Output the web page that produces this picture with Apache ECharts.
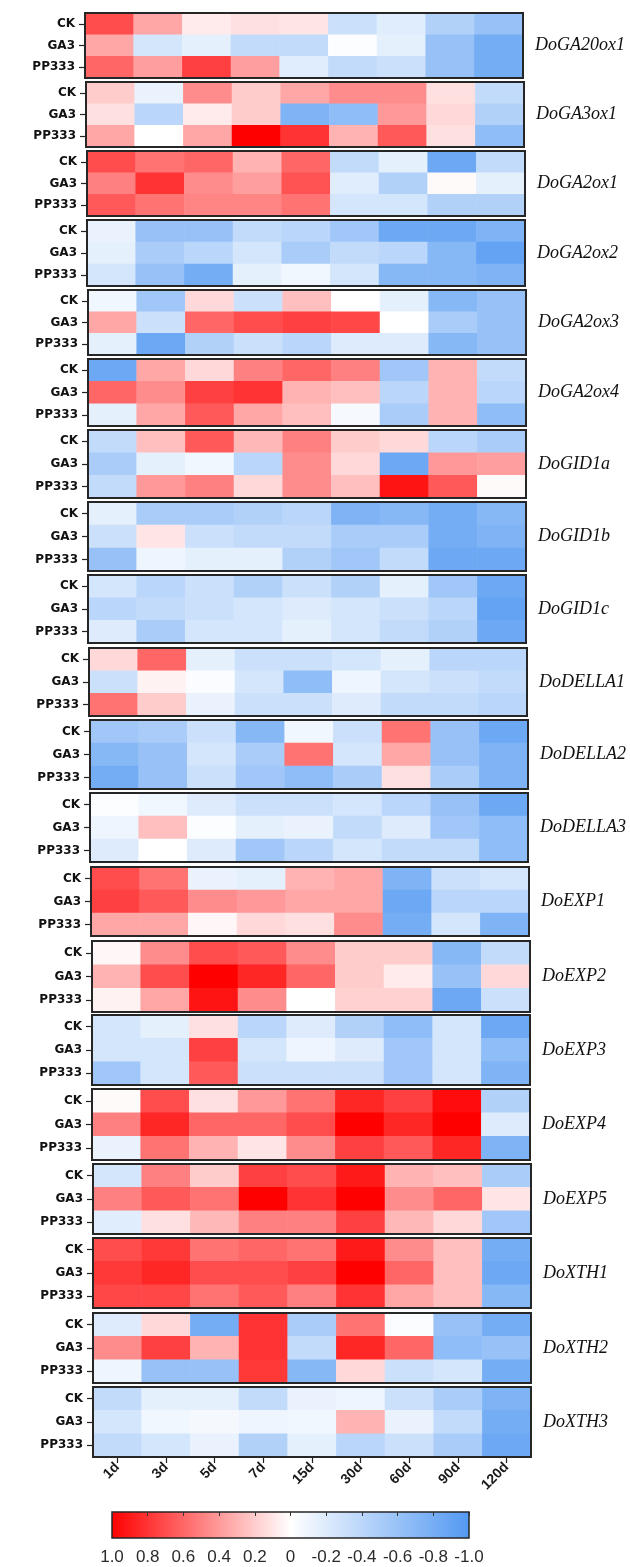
<!DOCTYPE html>
<html>
<head>
<meta charset="utf-8">
<script src="https://cdn.jsdelivr.net/npm/echarts@6/dist/echarts.min.js"></script>
<style>
  html, body { margin: 0; padding: 0; background: #ffffff; }
  #chart { width: 630px; height: 1567px; }
</style>
</head>
<body>
<div id="chart"></div>
<script>
// Sampling times (columns) and treatments (rows inside each gene block)
const days = ['1d', '3d', '5d', '7d', '15d', '30d', '60d', '90d', '120d'];
const treatments = ['CK', 'GA3', 'PP333'];
const genes = ['DoGA20ox1', 'DoGA3ox1', 'DoGA2ox1', 'DoGA2ox2', 'DoGA2ox3', 'DoGA2ox4',
  'DoGID1a', 'DoGID1b', 'DoGID1c', 'DoDELLA1', 'DoDELLA2', 'DoDELLA3',
  'DoEXP1', 'DoEXP2', 'DoEXP3', 'DoEXP4', 'DoEXP5', 'DoXTH1', 'DoXTH2', 'DoXTH3'];

// Relative expression per gene: rows CK, GA3, PP333; columns follow `days`
const DoGA20ox1 = [
  [0.70, 0.35, 0.08, 0.12, 0.10, -0.30, -0.18, -0.45, -0.60],
  [0.35, -0.25, -0.15, -0.35, -0.35, -0.02, -0.15, -0.60, -0.80],
  [0.60, 0.38, 0.75, 0.38, -0.18, -0.35, -0.30, -0.60, -0.80]];
const DoGA3ox1 = [
  [0.20, -0.12, 0.45, 0.20, 0.35, 0.45, 0.45, 0.12, -0.35],
  [0.12, -0.40, 0.08, 0.20, -0.75, -0.65, 0.40, 0.15, -0.45],
  [0.35, 0.00, 0.35, 1.00, 0.80, 0.30, 0.65, 0.12, -0.65]];
const DoGA2ox1 = [
  [0.70, 0.55, 0.60, 0.30, 0.60, -0.35, -0.15, -0.85, -0.35],
  [0.50, 0.80, 0.45, 0.38, 0.68, -0.18, -0.45, 0.02, -0.15],
  [0.65, 0.55, 0.48, 0.48, 0.55, -0.25, -0.25, -0.45, -0.45]];
const DoGA2ox2 = [
  [-0.12, -0.60, -0.60, -0.35, -0.40, -0.55, -0.85, -0.85, -0.75],
  [-0.15, -0.50, -0.40, -0.25, -0.50, -0.35, -0.40, -0.70, -0.90],
  [-0.25, -0.60, -0.80, -0.15, -0.08, -0.25, -0.70, -0.70, -0.75]];
const DoGA2ox3 = [
  [-0.08, -0.55, 0.15, -0.30, 0.25, 0.00, -0.15, -0.70, -0.60],
  [0.35, -0.30, 0.60, 0.70, 0.75, 0.72, 0.00, -0.50, -0.60],
  [-0.15, -0.85, -0.45, -0.30, -0.40, -0.20, -0.20, -0.70, -0.60]];
const DoGA2ox4 = [
  [-0.85, 0.35, 0.15, 0.50, 0.60, 0.50, -0.55, 0.30, -0.35],
  [0.60, 0.45, 0.75, 0.80, 0.30, 0.25, -0.40, 0.30, -0.40],
  [-0.15, 0.35, 0.65, 0.35, 0.25, -0.05, -0.50, 0.30, -0.65]];
const DoGID1a = [
  [-0.35, 0.25, 0.65, 0.28, 0.50, 0.20, 0.15, -0.40, -0.50],
  [-0.50, -0.15, -0.08, -0.40, 0.45, 0.15, -0.85, 0.40, 0.38],
  [-0.35, 0.40, 0.50, 0.15, 0.45, 0.25, 0.92, 0.65, 0.02]];
const DoGID1b = [
  [-0.15, -0.50, -0.50, -0.45, -0.40, -0.75, -0.70, -0.80, -0.70],
  [-0.30, 0.10, -0.30, -0.35, -0.35, -0.50, -0.50, -0.80, -0.75],
  [-0.60, -0.10, -0.15, -0.15, -0.45, -0.55, -0.35, -0.85, -0.85]];
const DoGID1c = [
  [-0.25, -0.40, -0.30, -0.45, -0.30, -0.45, -0.15, -0.55, -0.85],
  [-0.40, -0.35, -0.30, -0.25, -0.20, -0.25, -0.30, -0.40, -0.90],
  [-0.20, -0.50, -0.25, -0.25, -0.15, -0.25, -0.35, -0.45, -0.85]];
const DoDELLA1 = [
  [0.15, 0.60, -0.15, -0.30, -0.30, -0.25, -0.15, -0.40, -0.40],
  [-0.30, 0.05, -0.03, -0.25, -0.65, -0.10, -0.25, -0.30, -0.35],
  [0.55, 0.20, -0.12, -0.30, -0.30, -0.20, -0.35, -0.35, -0.40]];
const DoDELLA2 = [
  [-0.55, -0.50, -0.30, -0.70, -0.08, -0.30, 0.55, -0.60, -0.85],
  [-0.70, -0.60, -0.25, -0.50, 0.55, -0.25, 0.35, -0.60, -0.75],
  [-0.80, -0.60, -0.30, -0.55, -0.65, -0.50, 0.12, -0.50, -0.75]];
const DoDELLA3 = [
  [-0.02, -0.08, -0.20, -0.30, -0.30, -0.25, -0.40, -0.60, -0.85],
  [-0.10, 0.25, -0.02, -0.15, -0.12, -0.35, -0.20, -0.55, -0.65],
  [-0.20, 0.00, -0.20, -0.55, -0.40, -0.25, -0.35, -0.35, -0.65]];
const DoEXP1 = [
  [0.70, 0.55, -0.12, -0.15, 0.30, 0.35, -0.75, -0.30, -0.25],
  [0.75, 0.65, 0.45, 0.40, 0.35, 0.35, -0.85, -0.40, -0.40],
  [0.35, 0.35, 0.03, 0.15, 0.12, 0.45, -0.80, -0.25, -0.75]];
const DoEXP2 = [
  [0.03, 0.45, 0.70, 0.65, 0.45, 0.20, 0.20, -0.70, -0.35],
  [0.30, 0.70, 1.00, 0.85, 0.60, 0.20, 0.08, -0.60, 0.15],
  [0.05, 0.35, 0.92, 0.45, 0.00, 0.18, 0.18, -0.85, -0.30]];
const DoEXP3 = [
  [-0.25, -0.15, 0.12, -0.40, -0.20, -0.45, -0.65, -0.25, -0.85],
  [-0.25, -0.25, 0.75, -0.25, -0.10, -0.20, -0.55, -0.25, -0.65],
  [-0.55, -0.25, 0.65, -0.30, -0.30, -0.30, -0.55, -0.25, -0.75]];
const DoEXP4 = [
  [0.02, 0.70, 0.12, 0.40, 0.55, 0.85, 0.75, 0.95, -0.45],
  [0.50, 0.85, 0.60, 0.60, 0.70, 1.00, 0.85, 1.00, -0.20],
  [-0.12, 0.55, 0.30, 0.10, 0.45, 0.75, 0.65, 0.85, -0.75]];
const DoEXP5 = [
  [-0.25, 0.50, 0.20, 0.75, 0.70, 0.90, 0.30, 0.25, -0.50],
  [0.50, 0.65, 0.55, 1.00, 0.80, 1.00, 0.45, 0.60, 0.10],
  [-0.18, 0.12, 0.28, 0.50, 0.50, 0.75, 0.28, 0.15, -0.55]];
const DoXTH1 = [
  [0.70, 0.78, 0.55, 0.60, 0.55, 0.90, 0.45, 0.25, -0.80],
  [0.78, 0.85, 0.70, 0.70, 0.75, 1.00, 0.60, 0.25, -0.85],
  [0.72, 0.72, 0.55, 0.65, 0.50, 0.80, 0.35, 0.25, -0.70]];
const DoXTH2 = [
  [-0.20, 0.15, -0.80, 0.80, -0.50, 0.55, -0.03, -0.60, -0.80],
  [0.45, 0.75, 0.30, 0.80, -0.35, 0.85, 0.60, -0.65, -0.60],
  [-0.10, -0.60, -0.60, 0.78, -0.70, 0.15, -0.30, -0.25, -0.80]];
const DoXTH3 = [
  [-0.35, -0.15, -0.15, -0.35, -0.12, -0.10, -0.30, -0.50, -0.75],
  [-0.25, -0.08, -0.06, -0.10, -0.08, 0.30, -0.12, -0.35, -0.80],
  [-0.35, -0.25, -0.12, -0.45, -0.15, -0.40, -0.30, -0.50, -0.85]];

const geneValues = [DoGA20ox1, DoGA3ox1, DoGA2ox1, DoGA2ox2, DoGA2ox3, DoGA2ox4,
  DoGID1a, DoGID1b, DoGID1c, DoDELLA1, DoDELLA2, DoDELLA3,
  DoEXP1, DoEXP2, DoEXP3, DoEXP4, DoEXP5, DoXTH1, DoXTH2, DoXTH3];

// Colour scale tick labels (left to right)
const scaleLabels = ['1.0', '0.8', '0.6', '0.4', '0.2', '0', '-0.2', '-0.4', '-0.6', '-0.8', '-1.0'];

// ---- layout: each gene is drawn as its own framed panel ----
const blockTop    = [12, 81, 150, 219, 289, 358, 429, 501, 574, 647, 719, 792, 866, 940, 1014, 1088, 1163, 1237, 1312, 1386];
const blockBottom = [79, 148, 217, 287, 356, 427, 499, 572, 644, 717, 790, 863, 937, 1013, 1086, 1161, 1235, 1309, 1384, 1458];
const blockLeft   = [84, 85, 86, 86, 87, 87, 87, 87, 87, 88, 89, 89, 90, 91, 91, 91, 92, 92, 92, 92];
const blockWidth = 440;
const colorBar = { left: 112, top: 1512, width: 357, height: 26 };

// low (-1) -> mid (0) -> high (+1)
const palette = ['#5399F2', '#FFFFFF', '#FF0000'];

const frameColor = '#262626';
const grids = [], xAxes = [], yAxes = [], series = [], graphics = [];

genes.forEach((gene, i) => {
  const last = i === genes.length - 1;
  const h = blockBottom[i] - blockTop[i];
  grids.push({
    left: blockLeft[i] + 1, top: blockTop[i] + 1,
    width: blockWidth - 2, height: h - 2,
    show: true, z: 5,
    backgroundColor: 'transparent',
    borderColor: frameColor, borderWidth: 2
  });
  xAxes.push({
    type: 'category', gridIndex: i, data: days,
    axisLine: { show: false },
    splitLine: { show: false },
    axisTick: { show: last, alignWithLabel: true, length: 6, lineStyle: { color: '#222', width: 1.2 } },
    axisLabel: {
      show: last, rotate: 45, margin: 8, interval: 0,
      fontFamily: 'Liberation Sans', fontWeight: 'bold', fontSize: 14, color: '#1a1a1a'
    }
  });
  yAxes.push({
    type: 'category', gridIndex: i, data: treatments, inverse: true,
    axisLine: { show: false },
    splitLine: { show: false },
    axisTick: { show: true, alignWithLabel: true, length: 6, lineStyle: { color: '#222', width: 1.2 } },
    axisLabel: {
      margin: 10, fontFamily: 'DejaVu Sans', fontWeight: 'bold', fontSize: 12, color: '#111'
    }
  });
  const cells = [];
  geneValues[i].forEach((row, r) => row.forEach((v, c) => cells.push([c, r, v])));
  series.push({
    type: 'heatmap', name: gene, xAxisIndex: i, yAxisIndex: i, data: cells,
    itemStyle: { borderWidth: 0 },
    emphasis: { disabled: true }
  });
  graphics.push({
    type: 'text',
    x: blockLeft[i] + blockWidth + 11,
    y: (blockTop[i] + blockBottom[i]) / 2,
    style: {
      text: gene, fill: '#111',
      font: 'italic 18px "Liberation Serif", "Times New Roman", serif',
      verticalAlign: 'middle', align: 'left'
    }
  });
});

// Colour bar panel with its tick labels
const cbIndex = genes.length;
grids.push({
  left: colorBar.left, top: colorBar.top, width: colorBar.width, height: colorBar.height,
  show: true, z: 5,
  borderColor: frameColor, borderWidth: 1.5,
  backgroundColor: {
    type: 'linear', x: 0, y: 0, x2: 1, y2: 0,
    colorStops: [
      { offset: 0, color: palette[2] },
      { offset: 0.5, color: palette[1] },
      { offset: 1, color: palette[0] }
    ]
  }
});
xAxes.push({
  type: 'category', gridIndex: cbIndex, data: scaleLabels, boundaryGap: false, position: 'bottom', z: 6,
  axisLine: { show: false }, axisTick: { show: false }, splitLine: { show: false },
  axisLabel: { margin: 11, interval: 0, fontFamily: 'Liberation Sans', fontSize: 17, color: '#2a2a2a' }
});
xAxes.push({
  type: 'category', gridIndex: cbIndex, data: scaleLabels, boundaryGap: false, position: 'top', z: 6,
  axisLine: { show: false }, splitLine: { show: false }, axisLabel: { show: false },
  axisTick: { show: true, inside: true, length: 4, interval: 0, lineStyle: { color: '#333', width: 1 } }
});
yAxes.push({ type: 'value', gridIndex: cbIndex, show: false });

const chart = echarts.init(document.getElementById('chart'), null, { renderer: 'canvas' });
chart.setOption({
  backgroundColor: '#ffffff',
  animation: false,
  grid: grids,
  xAxis: xAxes,
  yAxis: yAxes,
  visualMap: {
    type: 'continuous', show: false, min: -1, max: 1,
    seriesIndex: genes.map((_, i) => i),
    inRange: { color: palette }
  },
  series: series,
  graphic: graphics
});
</script>
</body>
</html>
